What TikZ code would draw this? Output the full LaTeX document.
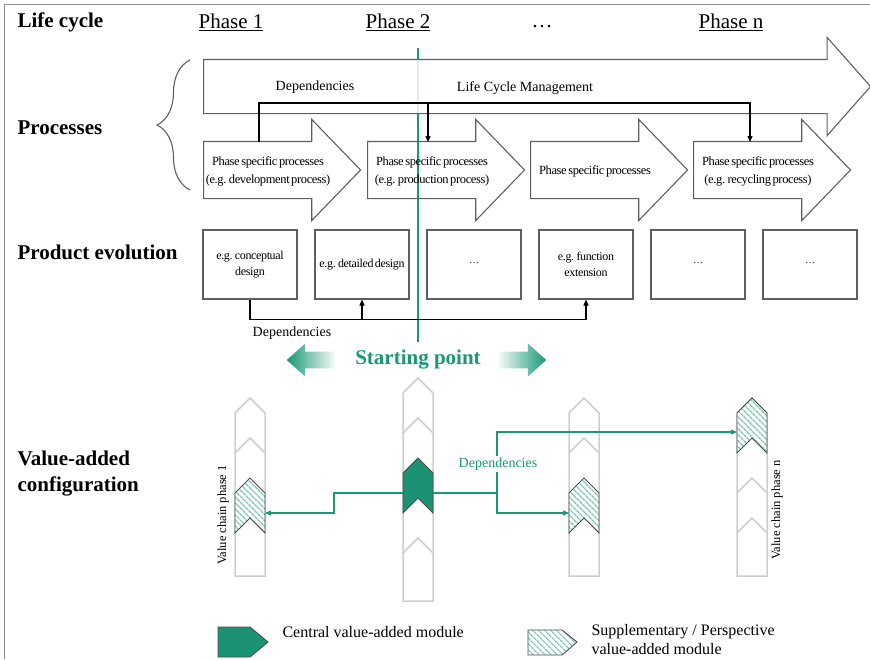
\documentclass[tikz,border=0pt]{standalone}
\usepackage{fontspec}
\setmainfont{Liberation Serif}
\newfontfamily\tightserif[LetterSpace=-3,WordSpace=0.55]{Liberation Serif}
\usetikzlibrary{arrows.meta,calc,decorations.pathreplacing,shapes.arrows,patterns.meta}
\definecolor{startgreen}{RGB}{24,152,118}
\definecolor{modulegreen}{RGB}{27,146,114}
\definecolor{hatchgreen}{RGB}{125,200,178}
\definecolor{chaingray}{RGB}{206,206,206}
\definecolor{framegray}{RGB}{140,140,140}
\definecolor{outlinegray}{RGB}{95,95,95}
\tikzset{
  rowtitle/.style={anchor=west, align=left, font=\fontsize{21}{26}\selectfont\bfseries},
  phasetitle/.style={font=\fontsize{21}{26}\selectfont},
  lcm/.style={single arrow, draw=outlinegray, line width=1.1pt,
              fill=white, fill opacity=0.85, anchor=tail,
              inner xsep=0pt, inner ysep=26.5pt,
              minimum height=667pt, minimum width=97pt,
              single arrow head extend=22pt, single arrow tip angle=97},
  procarrow/.style={single arrow, draw=outlinegray, line width=1.1pt,
                    anchor=tail, inner xsep=0pt, inner ysep=28pt,
                    minimum height=157pt, minimum width=100pt,
                    single arrow head extend=22pt, single arrow tip angle=92},
  proctext/.style={align=center, inner sep=0pt,
                   font=\tightserif\fontsize{12.5}{18}\selectfont},
  evobox/.style={draw=outlinegray, line width=1.1pt,
                 minimum width=94pt, minimum height=69pt, inner sep=1pt,
                 align=center, font=\tightserif\fontsize{12}{16}\selectfont},
  dotsbox/.style={evobox, font=\fontsize{10}{12}\selectfont, text depth=4pt},
  note/.style={font=\fontsize{14}{17}\selectfont},
  legend/.style={align=left, font=\fontsize{16}{19}\selectfont},
  flow/.style={-{Triangle[length=6pt,width=5pt]}, line width=1.1pt},
  greenflow/.style={flow, draw=startgreen},
  fadearrow/.style={single arrow, anchor=tail, inner xsep=0pt, inner ysep=8pt,
                    minimum height=48pt, minimum width=33pt,
                    single arrow head extend=8pt, single arrow tip angle=84},
  chain/.style={draw=chaingray, line width=1.5pt},
  central/.style={draw=black!70, line width=0.9pt, fill=modulegreen},
  perspective/.style={draw=black!70, line width=0.9pt, preaction={fill=white},
                      pattern={Lines[angle=-45,distance=4pt,line width=1.4pt]},
                      pattern color=hatchgreen},
}
% one column of the value chain: centre x, top peak y, bottom y
\newcommand{\valuechain}[3]{%
  \draw[chain] (#1-15,#3) -- (#1-15,#2+15) -- (#1,#2) -- (#1+15,#2+15) -- (#1+15,#3) -- cycle;}
% inner chevron between two steps
\newcommand{\chainstep}[2]{%
  \draw[chain] (#1-15,#2+15) -- (#1,#2) -- (#1+15,#2+15);}
% value-added module: centre x, peak y, style
\newcommand{\chainmodule}[3]{%
  \draw[#3] (#1-15,#2+15) -- (#1,#2) -- (#1+15,#2+15) -- (#1+15,#2+55)
    -- (#1,#2+40) -- (#1-15,#2+55) -- cycle;}

\begin{document}
\begin{tikzpicture}[x=1pt,y=-1pt]
  \path[use as bounding box] (0,0) rectangle (870,659);
  \draw[framegray, line width=1pt] (4,659) -- (4,4) -- (870,4);

  % row titles
  \node[rowtitle] (tlife) at (14,22) {Life cycle};
  \node[rowtitle] (tproc) at (14,128) {Processes};
  \node[rowtitle] (tevo) at (14,252) {Product evolution};
  \node[rowtitle] (tvac) at (14,474) {Value-added\\configuration};

  \node[phasetitle] (ph1) at (231,22) {\underline{Phase 1}};
  \node[phasetitle] (ph2) at (398,22) {\underline{Phase 2}};
  \node[phasetitle] (phdots) at (542,27) {\ldots};
  \node[phasetitle] (phn) at (731,22) {\underline{Phase n}};

  % starting point line, seen faintly through the management arrow
  \draw[startgreen, line width=2.8pt] (418,48) -- (418,342);

  % life cycle management
  \node[lcm] (lcm) at (203,86.5) {};
  \draw[outlinegray, line width=1.1pt, decorate,
        decoration={brace, amplitude=33pt}] (190,190) -- (190,60);
  \node[note] (deplcm) at (315,87) {Dependencies};
  \node[note] (lcmtext) at (525,88) {Life Cycle Management};

  % phase specific processes
  \node[procarrow] (p1) at (203,170) {};
  \node[procarrow] (p2) at (367,170) {};
  \node[procarrow] (p3) at (530,170) {};
  \node[procarrow] (p4) at (693,170) {};
  \node[proctext] (t1) at ($(p1.tail)+(65,1)$)
    {Phase specific processes\\(e.g. development process)};
  \node[proctext] (t2) at ($(p2.tail)+(65,1)$)
    {Phase specific processes\\(e.g. production process)};
  \node[proctext] (t3) at ($(p3.tail)+(65,1)$)
    {Phase specific processes};
  \node[proctext] (t4) at ($(p4.tail)+(65,1)$)
    {Phase specific processes\\(e.g. recycling process)};

  \coordinate (p1out) at ($(p1.tail)+(56,-28)$);
  \coordinate (p2in) at ($(p2.tail)+(61,-28)$);
  \coordinate (p4in) at ($(p4.tail)+(57,-28)$);
  \draw[flow] (p1out) -- ++(0,-39) coordinate (pjoin) -| (p4in);
  \draw[flow] (pjoin -| p2in) -- (p2in);

  % product evolution
  \node[evobox] (e1) at (250,264.5) {e.g. conceptual\\design};
  \node[evobox] (e2) at (362,264.5) {e.g. detailed design};
  \node[dotsbox] (e3) at (474,264.5) {\ldots};
  \node[evobox] (e4) at (586,264.5) {e.g. function\\extension};
  \node[dotsbox] (e5) at (698,264.5) {\ldots};
  \node[dotsbox] (e6) at (810,264.5) {\ldots};
  \draw[flow] (e1.south) -- ++(0,20) coordinate (ejoin) -| (e4.south);
  \draw[flow] (ejoin -| e2.south) -- (e2.south);
  \node[note] (depevo) at (292,333) {Dependencies};

  % starting point
  \node[font=\fontsize{21}{24}\selectfont\bfseries, text=startgreen] (start)
    at (418,360) {Starting point};
  \node[fadearrow, shape border rotate=180,
        left color=startgreen, right color=startgreen!4] (goleft) at (335,360) {};
  \node[fadearrow,
        left color=startgreen!4, right color=startgreen] (goright) at (498,360) {};

  % value chains
  \valuechain{250}{398}{576}
  \chainstep{250}{438}
  \chainmodule{250}{478}{perspective}

  \valuechain{418}{378}{601}
  \chainstep{418}{418}
  \chainstep{418}{538}
  \chainmodule{418}{458}{central}

  \valuechain{584}{398}{576}
  \chainstep{584}{438}
  \chainmodule{584}{478}{perspective}

  \valuechain{752}{398}{576}
  \chainstep{752}{478}
  \chainstep{752}{518}
  \chainmodule{752}{398}{perspective}

  \node[rotate=90, font=\fontsize{12.5}{15}\selectfont] (vc1) at (223,515)
    {Value chain phase 1};
  \node[rotate=90, font=\fontsize{12.5}{15}\selectfont] (vcn) at (777,510)
    {Value chain phase n};

  \coordinate (m2w) at (403,493);
  \coordinate (m2e) at (433,493);
  \coordinate (m1e) at (265,513);
  \coordinate (m3w) at (569,513);
  \coordinate (m4w) at (737,432);
  \coordinate (vsplit) at (497,493);
  \draw[greenflow] (m2w) -| ($(m2w)!.5!(m1e)$) |- (m1e);
  \draw[startgreen, line width=1.1pt] (m2e) -- (vsplit);
  \draw[greenflow] (vsplit) |- (m3w);
  \draw[greenflow] (vsplit) |- (m4w);
  \node[note, text=startgreen, fill=white, inner sep=2pt] (depchain)
    at (498,464) {Dependencies};

  % legend
  \draw[central] (218,627) -- (250,627) -- (268,642) -- (250,657) -- (218,657) -- cycle;
  \node[legend, anchor=west] (legcentral) at (279,632) {Central value-added module};
  \draw[perspective] (528,630) -- (562,630) -- (577,642) -- (562,655) -- (528,655) -- cycle;
  \node[legend, anchor=north west] (legpersp) at (588,621)
    {Supplementary / Perspective\\value-added module};
\end{tikzpicture}
\end{document}
